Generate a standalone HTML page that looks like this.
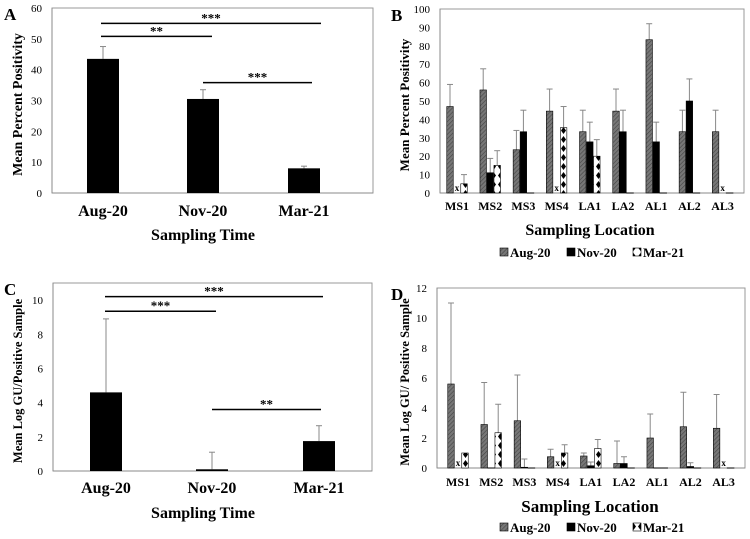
<!DOCTYPE html>
<html><head><meta charset="utf-8"><style>
body{margin:0;background:#fff}
svg{display:block;font-family:"Liberation Serif",serif;font-weight:bold}
</style></head><body>
<svg id="c" width="750" height="539" viewBox="0 0 750 539" xmlns="http://www.w3.org/2000/svg">
<defs>
<pattern id="hatch" width="3" height="3" patternUnits="userSpaceOnUse" patternTransform="rotate(45)">
<rect width="3" height="3" fill="#777"/><line x1="0" y1="0" x2="0" y2="3" stroke="#444" stroke-width="1.2"/></pattern>
<pattern id="dots" width="7" height="9" patternUnits="userSpaceOnUse">
<rect width="7" height="9" fill="#fff"/><path d="M3.5 1 L6 4.5 L3.5 8 L1 4.5Z" fill="#000"/></pattern>
</defs>
</svg>
<script>
// Panel A data
const timeCats=["Aug-20","Nov-20","Mar-21"];
const aVals=[43.5,30.5,8];
const aErr=[47.5,33.5,8.7];
// Panel C data
const cVals=[4.6,0.1,1.75];
const cErr=[8.9,1.1,2.65];
// Panel B/D data
const locCats=["MS1","MS2","MS3","MS4","LA1","LA2","AL1","AL2","AL3"];
const bAug=[47,56,23.5,44.5,33.3,44.5,83.3,33.3,33.3];
const bAugErr=[59,67.5,34,56.5,45,56.5,92,45,45];
const bNov=[null,11,33.3,null,27.8,33.3,27.8,50,null];
const bNovErr=[null,18.8,45,null,38.5,45,38.5,62,null];
const bMar=[5,15,0,35.5,20,0,0,0,0];
const bMarErr=[10,23,0,47,29,0,0,0,0];
const dAug=[5.6,2.9,3.15,0.75,0.8,0.3,2.0,2.75,2.65];
const dAugErr=[11,5.7,6.2,1.25,1.0,1.8,3.6,5.05,4.9];
const dNov=[null,0,0.05,null,0.15,0.3,0,0.1,null];
const dNovErr=[null,0,0.6,null,0.4,0.75,0,0.35,null];
const dMar=[1.0,2.35,0,1.0,1.3,0,0,0,0];
const dMarErr=[1.0,4.25,0,1.55,1.9,0,0,0,0];
const yTicksA=[0,10,20,30,40,50,60];
const yTicksB=[0,10,20,30,40,50,60,70,80,90,100];
const yTicksC=[0,2,4,6,8,10];
const yTicksD=[0,2,4,6,8,10,12];
const legendLabels=["Aug-20","Nov-20","Mar-21"];

const svg=document.getElementById('c');
const NS="http://www.w3.org/2000/svg";
function mk(tag,attrs,parent){const e=document.createElementNS(NS,tag);for(const k in attrs)e.setAttribute(k,attrs[k]);(parent||svg).appendChild(e);return e;}
function txt(x,y,s,size,anchor,parent){const t=mk('text',{x:x,y:y,'font-size':size,'text-anchor':anchor||'middle'},parent);t.textContent=s;return t;}

function frame(g,L,R,T,B,ymax,ticks,yfn){
  const f=mk('rect',{x:L,y:T,width:R-L,height:B-T,fill:'none',stroke:'#999','stroke-width':1},g);
  
  
  const ax=mk('line',{x1:L,y1:T,x2:L,y2:B,stroke:'#888'},g);
  
  
  const bx=mk('line',{x1:L,y1:B,x2:R,y2:B,stroke:'#888'},g);
  
  
  ticks.forEach(v=>{const t=txt(L-10,yfn(v)+4,String(v),11,'end',g);
    t.setAttribute('font-weight','normal');
    
    });
}
function errbar(g,x,y,cap){
  const l=mk('line',{x1:x,y1:y[0],x2:x,y2:y[1],stroke:'#888','stroke-width':1},g);
  
  
  mk('line',{x1:x-cap,y1:y[1],x2:x+cap,y2:y[1],stroke:'#888','stroke-width':1},g);
}
function sig(g,x1,x2,y,s){
  const l=mk('line',{x1:x1,y1:y,x2:x2,y2:y,stroke:'#000','stroke-width':1.5},g);
  
  
  const t=txt((x1+x2)/2,y-1,s,13,'middle',g);
  
  
}
function rotTitle(g,x,y,s,size){
  const t=txt(x,y,s,size,'middle',g);t.setAttribute('transform',`rotate(-90 ${x} ${y})`);
  
  
}

function simplePanel(id,letter,vals,errs,L,R,T,B,ymax,ticks,xs,ytitle,sigs,titleY,labelY,titleX,ts){
  const g=mk('g',{});
  
  
  const y=v=>B-(v/ymax)*(B-T);
  frame(g,L,R,T,B,ymax,ticks,y);
  const pl=txt(4,T+12,letter,17,'start',g);
  
  
  vals.forEach((v,i)=>{
    const w=32,x=xs[i];
    errbar(g,x,[y(v),y(errs[i])],3);
    const r=mk('rect',{x:x-w/2,y:y(v),width:w,height:B-y(v),fill:'#000'},g);
    
    
    const t=txt(x,labelY,timeCats[i],16,'middle',g);
    
    
  });
  const xt=txt(203,titleY,'Sampling Time',16,'middle',g);
  
  
  rotTitle(g,titleX,(T+B)/2+4,ytitle,ts);
  sigs.forEach(s=>sig(g,s[0],s[1],y(s[2]),s[3]));
}
simplePanel('panel-a','A',aVals,aErr,52,373,8,193,60,yTicksA,[103,203,304],'Mean Percent Positivity',
  [[101,321,55,'***'],[101,212,50.8,'**'],[203,312,35.8,'***']],240,216,22,14);
simplePanel('panel-c','C',cVals,cErr,53,372,283,471,11,yTicksC,[106,212,319],'Mean Log GU/Positive Sample',
  [[105,323,10.2,'***'],[105,216,9.35,'***'],[212,321,3.6,'**']],518,493,22,12.5);

function groupPanel(id,letter,L,R,T,B,ymax,ticks,aug,augE,nov,novE,mar,marE,ytitle,x0,labelY,titleY,legY,titleX,ts){
  const g=mk('g',{});
  
  
  const y=v=>B-(v/ymax)*(B-T);
  const xc=i=>x0+i*33.2;
  frame(g,L,R,T,B,ymax,ticks,y);
  const pl=txt(391,T+12,letter,17,'start',g);
  
  
  const series=[[aug,augE,'url(#hatch)',-7,'aug-20'],[nov,novE,'#000',0,'nov-20'],[mar,marE,'url(#dots)',7,'mar-21']];
  locCats.forEach((c,i)=>{
    series.forEach(s=>{
      const v=s[0][i],x=xc(i)+s[3],w=6.5;
      if(v===null){const t=txt(x,B-2,'x',9,'middle',g);return;}
      if(s[1][i]>v)errbar(g,x,[y(v),y(s[1][i])],3);
      const r=mk('rect',{x:x-w/2,y:y(v),width:w,height:Math.max(B-y(v),0.01),fill:s[2],stroke:'#000','stroke-width':v>0?0.6:1},g);
      
      
    });
    const t=txt(xc(i),labelY,c,12,'middle',g);
    
    
  });
  const xt=txt(590,titleY,'Sampling Location',id==='panel-b'?16:17,'middle',g);
  
  
  rotTitle(g,titleX,(T+B)/2+4,ytitle,ts);
  const fills=['url(#hatch)','#000','url(#dots)'];
  [500,567,633].forEach((lx,k)=>{
    const sw=mk('rect',{x:lx,y:legY-9,width:8,height:8,fill:fills[k],stroke:'#000','stroke-width':0.6},g);
    
    
    const t=txt(lx+10,legY,legendLabels[k],13,'start',g);
    
    
  });
}
groupPanel('panel-b','B',440,744,9,193,100,yTicksB,bAug,bAugErr,bNov,bNovErr,bMar,bMarErr,'Mean Percent Positivity',457,210,235,257,409,13);
groupPanel('panel-d','D',437,745,288,468,12,yTicksD,dAug,dAugErr,dNov,dNovErr,dMar,dMarErr,'Mean Log GU/ Positive Sample',458,486,512,532,409,12.5);
</script>
</body></html>
